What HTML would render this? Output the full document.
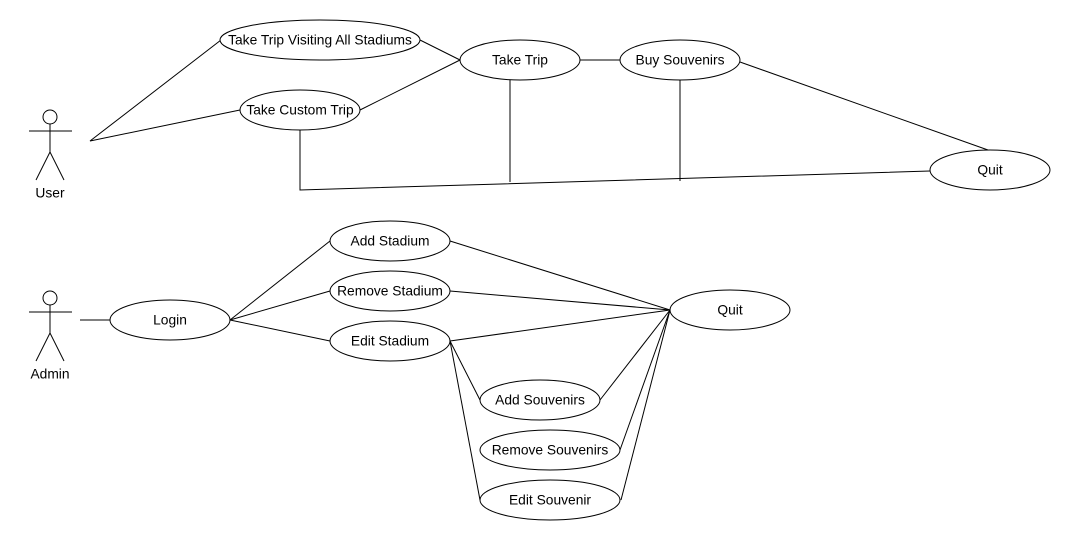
<!DOCTYPE html>
<html><head><meta charset="utf-8"><style>
html,body{margin:0;padding:0;background:#fff;width:1070px;height:540px;overflow:hidden}
svg text{font-family:"Liberation Sans",Arial,sans-serif;font-size:13.8px;fill:#000;text-anchor:middle;dominant-baseline:central}
</style></head><body>
<svg width="1070" height="540" viewBox="0 0 1070 540" xmlns="http://www.w3.org/2000/svg">
<g stroke="#000" stroke-width="1" fill="none">
<circle cx="50" cy="117" r="7"/>
<line x1="29" y1="131" x2="72" y2="131"/>
<line x1="50" y1="124" x2="50" y2="152"/>
<line x1="50" y1="152" x2="36" y2="180"/>
<line x1="50" y1="152" x2="64" y2="180"/>
<circle cx="50" cy="298" r="7"/>
<line x1="29" y1="312" x2="72" y2="312"/>
<line x1="50" y1="305" x2="50" y2="333"/>
<line x1="50" y1="333" x2="36" y2="361"/>
<line x1="50" y1="333" x2="64" y2="361"/>
<polyline points="221,40 90,141 240,110"/>
<line x1="420" y1="40" x2="460" y2="60"/>
<line x1="360" y1="110" x2="460" y2="60"/>
<line x1="580" y1="60" x2="620" y2="60"/>
<line x1="740" y1="62" x2="988" y2="150"/>
<polyline points="300,130 300,190 930,171"/>
<line x1="510" y1="80" x2="510" y2="182"/>
<line x1="680" y1="80" x2="680" y2="181"/>
<line x1="80" y1="320" x2="110" y2="320"/>
<line x1="230" y1="320" x2="330" y2="241"/>
<line x1="230" y1="320" x2="330" y2="291"/>
<line x1="230" y1="320" x2="330" y2="341"/>
<line x1="450" y1="241" x2="670" y2="310"/>
<line x1="450" y1="291" x2="670" y2="310"/>
<line x1="450" y1="341" x2="670" y2="310"/>
<line x1="450" y1="341" x2="480" y2="400"/>
<line x1="450" y1="341" x2="480" y2="500"/>
<line x1="600" y1="400" x2="670" y2="310"/>
<line x1="620" y1="450" x2="670" y2="310"/>
<line x1="621" y1="500" x2="670" y2="310"/>
</g>
<g stroke="#000" stroke-width="1" fill="#fff">
<ellipse cx="320" cy="40" rx="100" ry="20"/>
<ellipse cx="300" cy="110" rx="60" ry="20"/>
<ellipse cx="520" cy="60" rx="60" ry="20"/>
<ellipse cx="680" cy="60" rx="60" ry="20"/>
<ellipse cx="990" cy="170" rx="60" ry="20"/>
<ellipse cx="170" cy="320" rx="60" ry="20"/>
<ellipse cx="390" cy="241" rx="60" ry="20"/>
<ellipse cx="390" cy="291" rx="60" ry="20"/>
<ellipse cx="390" cy="341" rx="60" ry="20"/>
<ellipse cx="730" cy="310" rx="60" ry="20"/>
<ellipse cx="540" cy="400" rx="60" ry="20"/>
<ellipse cx="550" cy="450" rx="70" ry="20"/>
<ellipse cx="550" cy="500" rx="70" ry="20"/>
</g>
<text x="50" y="193">User</text>
<text x="50" y="374">Admin</text>
<text x="320" y="40">Take Trip Visiting All Stadiums</text>
<text x="300" y="110">Take Custom Trip</text>
<text x="520" y="60">Take Trip</text>
<text x="680" y="60">Buy Souvenirs</text>
<text x="990" y="170">Quit</text>
<text x="170" y="320">Login</text>
<text x="390" y="241">Add Stadium</text>
<text x="390" y="291">Remove Stadium</text>
<text x="390" y="341">Edit Stadium</text>
<text x="730" y="310">Quit</text>
<text x="540" y="400">Add Souvenirs</text>
<text x="550" y="450">Remove Souvenirs</text>
<text x="550" y="500">Edit Souvenir</text>
</svg>
</body></html>
